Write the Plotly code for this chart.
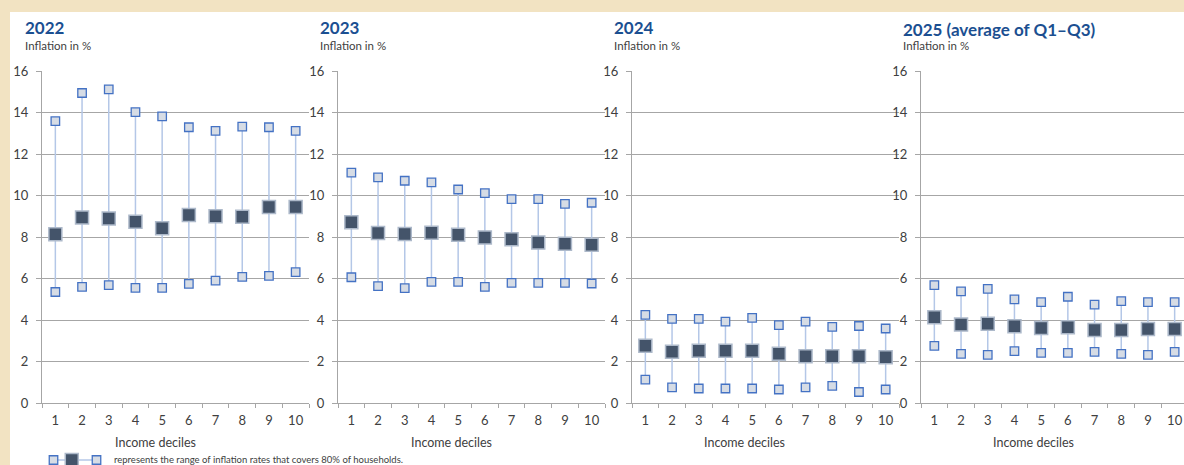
import plotly.graph_objects as go

W, H = 1184, 465

deciles = [1, 2, 3, 4, 5, 6, 7, 8, 9, 10]
titles = ["2022", "2023", "2024", "2025 (average of Q1–Q3)"]

high_2022 = [13.58, 14.94, 15.11, 14.02, 13.81, 13.29, 13.11, 13.32, 13.29, 13.11]
mid_2022 = [8.13, 8.94, 8.89, 8.74, 8.42, 9.06, 9.00, 8.97, 9.45, 9.45]
low_2022 = [5.35, 5.60, 5.68, 5.55, 5.55, 5.74, 5.90, 6.08, 6.13, 6.31]

high_2023 = [11.10, 10.87, 10.71, 10.63, 10.29, 10.11, 9.83, 9.83, 9.60, 9.65]
mid_2023 = [8.71, 8.19, 8.14, 8.21, 8.11, 7.98, 7.89, 7.73, 7.68, 7.63]
low_2023 = [6.06, 5.63, 5.54, 5.84, 5.84, 5.60, 5.79, 5.79, 5.79, 5.76]

high_2024 = [4.25, 4.05, 4.05, 3.92, 4.10, 3.75, 3.92, 3.67, 3.71, 3.59]
mid_2024 = [2.76, 2.47, 2.52, 2.52, 2.52, 2.37, 2.25, 2.25, 2.25, 2.20]
low_2024 = [1.13, 0.75, 0.70, 0.70, 0.70, 0.65, 0.75, 0.83, 0.53, 0.65]

high_2025 = [5.68, 5.38, 5.50, 4.99, 4.86, 5.12, 4.74, 4.91, 4.86, 4.86]
mid_2025 = [4.13, 3.78, 3.82, 3.70, 3.62, 3.65, 3.52, 3.52, 3.57, 3.57]
low_2025 = [2.75, 2.37, 2.32, 2.50, 2.42, 2.42, 2.46, 2.37, 2.32, 2.46]

y_ticks = [0, 2, 4, 6, 8, 10, 12, 14, 16]
x_title = "Income deciles"
y_unit = "Inflation in %"
legend_text = "represents the range of inflation rates that covers 80% of households."

panels = [
    (high_2022, mid_2022, low_2022),
    (high_2023, mid_2023, low_2023),
    (high_2024, mid_2024, low_2024),
    (high_2025, mid_2025, low_2025),
]

# layout in pixels
axis_left = [42, 338, 632, 921]
cat_w = 26.7
title_x = [23, 318, 612, 901]
title_y = [27, 27, 27, 30]
sub_y = [45, 45, 45, 46]
xtitle_x = [155, 451, 744, 1033]
plot_top, plot_bot = 71, 403

BEIGE = "#F2E3C2"
GRID = "#A6A6A6"
TXT = "#404040"
BLUE_T = "#1B4F91"
LIGHT_FILL = "#D6DCE5"
LIGHT_LINE = "#4472C4"
DARK_FILL = "#44546A"
DARK_LINE = "#ADB9CA"
STEM = "#B4C7E7"
FONT = "Lato"

def px(x):
    return x / W

def py(y):
    return 1 - y / H

fig = go.Figure()
annotations = []

for i, (hi, mid, lo) in enumerate(panels):
    n = i + 1
    xa = "x" if n == 1 else f"x{n}"
    ya = "y" if n == 1 else f"y{n}"
    left = axis_left[i]
    right = min(left + 10 * cat_w, W)
    xmax = 0.5 + (right - left) / cat_w
    fig.add_trace(go.Scatter(
        x=deciles, y=mid, mode="markers", xaxis=xa, yaxis=ya,
        error_y=dict(type="data", symmetric=False,
                     array=[h - m for h, m in zip(hi, mid)],
                     arrayminus=[m - l for m, l in zip(mid, lo)],
                     color=STEM, thickness=1.5, width=0),
        marker=dict(symbol="square", size=13, color=DARK_FILL,
                    line=dict(color=DARK_LINE, width=1.5)),
        showlegend=False, hoverinfo="skip"))
    fig.add_trace(go.Scatter(
        x=deciles + deciles, y=hi + lo, mode="markers", xaxis=xa, yaxis=ya,
        marker=dict(symbol="square", size=8.5, color=LIGHT_FILL,
                    line=dict(color=LIGHT_LINE, width=1.3)),
        showlegend=False, hoverinfo="skip"))
    xkey = "xaxis" if n == 1 else f"xaxis{n}"
    ykey = "yaxis" if n == 1 else f"yaxis{n}"
    fig.update_layout({
        xkey: dict(domain=[px(left), px(right)], anchor=ya, range=[0.5, xmax],
                   tickvals=deciles, ticktext=[str(d) for d in deciles],
                   ticks="", showgrid=False, zeroline=False, automargin=False,
                   showline=True, linecolor=GRID, linewidth=1,
                   tickfont=dict(family=FONT, size=13, color=TXT),
                   ticklabelstandoff=5,
                   minor=dict(tickvals=[d + 0.5 for d in [0] + deciles],
                              ticks="outside", ticklen=4, tickcolor=GRID,
                              showgrid=False)),
        ykey: dict(domain=[py(plot_bot), py(plot_top)], anchor=xa, range=[0, 16],
                   tickvals=y_ticks, ticks="outside", ticklen=5, tickcolor=GRID,
                   showgrid=True, gridcolor=GRID, gridwidth=1, zeroline=False,
                   showline=True, linecolor=GRID, linewidth=1, automargin=False,
                   tickfont=dict(family=FONT, size=13, color=TXT),
                   ticklabelstandoff=5),
    })
    annotations.append(dict(text=f"<b>{titles[i]}</b>", x=px(title_x[i]), y=py(title_y[i]),
                            xref="paper", yref="paper", xanchor="left", yanchor="middle",
                            showarrow=False, font=dict(family=FONT, size=17, color=BLUE_T)))
    annotations.append(dict(text=y_unit, x=px(title_x[i]), y=py(sub_y[i]),
                            xref="paper", yref="paper", xanchor="left", yanchor="middle",
                            showarrow=False, font=dict(family=FONT, size=11.5, color=TXT)))
    annotations.append(dict(text=x_title, x=px(xtitle_x[i]), y=py(442),
                            xref="paper", yref="paper", xanchor="center", yanchor="middle",
                            showarrow=False, font=dict(family=FONT, size=12.5, color=TXT)))

# legend glyph on a hidden axis
fig.add_trace(go.Scatter(x=[0, 2], y=[0, 0], mode="lines+markers", xaxis="x5", yaxis="y5",
                         line=dict(color=STEM, width=1.5), cliponaxis=False,
                         marker=dict(symbol="square", size=8.5, color=LIGHT_FILL,
                                     line=dict(color=LIGHT_LINE, width=1.3)),
                         showlegend=False, hoverinfo="skip"))
fig.add_trace(go.Scatter(x=[0.85], y=[0], mode="markers", xaxis="x5", yaxis="y5",
                         cliponaxis=False,
                         marker=dict(symbol="square", size=13, color=DARK_FILL,
                                     line=dict(color=DARK_LINE, width=1.5)),
                         showlegend=False, hoverinfo="skip"))
fig.update_layout(
    xaxis5=dict(domain=[px(53.5), px(96.5)], range=[0, 2], visible=False, anchor="y5",
                automargin=False),
    yaxis5=dict(domain=[0, py(455)], range=[-1, 1], visible=False, anchor="x5",
                automargin=False),
)
annotations.append(dict(text=legend_text, x=px(112), y=py(459), xref="paper", yref="paper",
                        xanchor="left", yanchor="middle", showarrow=False,
                        font=dict(family=FONT, size=9.5, color=TXT)))

fig.update_layout(
    width=W, height=H, margin=dict(l=0, r=0, t=0, b=0, pad=0, autoexpand=False),
    paper_bgcolor=BEIGE, plot_bgcolor="rgba(0,0,0,0)",
    annotations=annotations,
    shapes=[dict(type="rect", xref="paper", yref="paper", x0=px(10), x1=1, y0=0, y1=py(12),
                 fillcolor="white", line=dict(width=0), layer="below")],
)

fig.write_html("out.html")
